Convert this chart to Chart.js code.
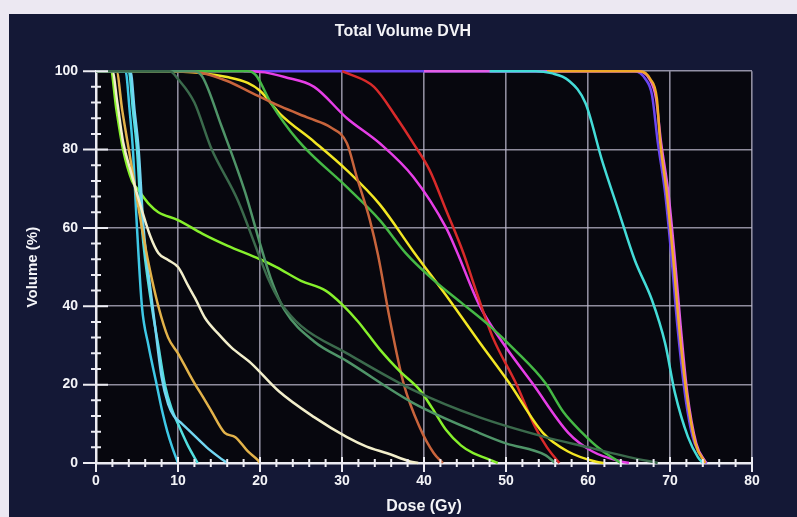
<!DOCTYPE html>
<html>
<head>
<meta charset="utf-8">
<script src="https://cdn.jsdelivr.net/npm/chart.js@4.4.1/dist/chart.umd.min.js"></script>
<style>
  html, body { margin: 0; padding: 0; background: #ece8f2; }
  #wrap { position: absolute; left: 9px; top: 14px; width: 788px; height: 503px; background: #141836; }
</style>
</head>
<body>
<div id="wrap"><canvas id="dvh" width="788" height="503"></canvas></div>
<script>
// curves: [dose (Gy), volume (%)]
const darkGreen = [[0,100],[9,100],[10,98],[12,92],[14,80.6],[17.3,67],[19.7,54],[21,47],[22.5,41],[25,35],[30.6,28],[38.7,18.6],[46.7,11.7],[54.8,6.6],[60,4],[65,1.5],[68.5,0]];
const tealGreen = [[0,100],[12,100],[13,98.5],[15.3,86],[18.2,69],[20,56],[21.5,46],[23,39],[26.6,31],[30.6,26],[38.7,15.3],[46.7,7.7],[50,5],[54.8,2],[56,0]];
const cream = [[0,100],[2,100],[2.6,92],[3.3,82],[4.3,74],[5.6,64.5],[6.6,58],[7.6,53.6],[8.8,51.8],[10,50],[11.3,45],[12.1,42],[13.3,37],[14.9,33],[16.5,29.5],[18.9,25.5],[22.3,18.3],[26.6,11.7],[30.6,6.6],[33,4.2],[35.5,2.5],[38.3,0.4],[39.3,0]];
const amber = [[0,100],[2.5,100],[3.2,90],[4,80],[4.8,70],[5.6,60],[6.5,50],[7.6,40],[8.8,32],[10,28],[11.3,23],[12,20.4],[13,17],[14,13.5],[15.7,7.7],[17,6.6],[18.5,3],[19.7,0.8],[20,0]];
const cyanC = [[0,100],[4.2,100],[4.7,90],[5.2,80],[5.8,60],[6.6,45],[7.2,35],[8,22],[8.8,15],[9.5,12],[10.5,10],[11.5,8],[13.5,4],[15,1.5],[16,0]];
const cyanB = [[0,100],[4,100],[4.5,90],[5,80],[5.6,60],[6.8,40],[7.6,30],[8.4,20],[9.2,14],[10,10],[11.2,4.5],[12.4,0]];
const cyanA = [[0,100],[3.6,100],[4.1,90],[4.5,80],[5,60],[5.6,40],[6.4,30],[7.4,20],[8.1,13],[8.7,8],[9.3,4],[10,0]];
const lime = [[0,100],[1.8,100],[2.5,90],[3.3,80],[4.4,72],[5.2,69.6],[6.5,66],[7.6,64],[10,62],[13,58.5],[16,55.5],[20,52],[22,50],[25,46.5],[28,44],[30,40.5],[32,36],[34.6,29],[37,23.5],[39.5,18.6],[41,14],[42.7,8.4],[44.5,4.5],[46,2.5],[47.6,1.2],[49,0]];
const brown = [[0,100],[9,100],[13,99.5],[16,97.5],[18.5,95],[22.5,91],[26,88],[28.6,85.7],[30.6,81.6],[31.8,73],[33.4,62],[34.4,53],[35.8,37],[37.5,20.4],[39.5,9],[41.2,2.5],[42.3,0]];
const green = [[0,100],[18.5,100],[19.5,99],[21.3,92],[24.6,82.4],[30.6,70.4],[34.6,62],[37.8,53.5],[41,47],[44.5,41],[48,35],[51,29],[54.8,20.4],[57,13],[59.3,7.7],[61.5,3.5],[64,0]];
const yellow = [[0,100],[8,100],[13,99.5],[16,98.5],[18.5,97],[20,95],[22.5,89],[26.6,82],[30.6,74.7],[34.6,66],[38.7,54],[43.1,41.6],[46.7,31],[50.4,20.4],[54.5,7.7],[57.5,3],[61,0.3],[62,0]];
const red = [[30,100],[30.6,99.5],[33.9,96],[36.7,88],[38.7,81.6],[40.7,74.7],[42.7,64.5],[44.8,53.6],[46.5,43],[48.4,32],[51.2,20.4],[53.6,9],[55,4],[56.5,0]];
const magenta = [[0,100],[18,100],[20.6,99.7],[23,98.5],[26.6,96],[30.6,88],[34.6,81.6],[38.7,73],[42.7,60],[44,54],[46.7,40.5],[49.5,31],[53.2,20.4],[57.6,7.7],[60.5,3],[64,0.4],[65,0]];
const cyanRight = [[48,100],[53.6,100],[55.5,99.5],[57.6,97.7],[59.7,91.8],[61.7,77.3],[63.7,64.5],[65.7,51.8],[67.8,41.6],[69.4,30.6],[70.6,17.9],[72.2,6.6],[73.4,1.5],[74,0]];
const ptvOrange = [[55,100],[66.3,100],[67.6,98],[68.4,93],[68.8,82],[69.6,69],[70.4,52],[71.1,35],[72,18],[73.1,5],[74.3,0]];
const ptvPink = [[40,100],[66,100],[67.5,98],[68.3,93],[68.9,82],[69.8,69],[70.6,52],[71.3,35],[72.1,18],[73.2,5],[74.4,0]];
const ptvViolet = [[18,100],[65.7,100],[67,98],[67.8,94],[68.5,82],[69.4,69],[70.2,52],[70.9,35],[71.8,18],[72.5,9],[73,5],[74.2,0.5],[74.5,0]];

const curves = [darkGreen, tealGreen, cream, amber, cyanC, cyanB, cyanA, lime, brown, green, yellow, red, magenta, cyanRight, ptvOrange, ptvPink, ptvViolet];
const colors = ['#3b6a4c', '#4f9468', '#f2eecb', '#e2b24a', '#72d6f2', '#52dede', '#3fc8e6', '#86f02c', '#c8643c', '#45b845', '#f2e624', '#d82a2a', '#e63ee6', '#44dcd8', '#f0a828', '#e35fe6', '#6a46f2'];

const xTicks = [0, 10, 20, 30, 40, 50, 60, 70, 80];
const yTicks = [0, 20, 40, 60, 80, 100];

const gridColor = 'rgba(190,186,206,0.75)';
const axisColor = '#ecebf2';
const textColor = '#f4f4f8';
const font = { family: 'Liberation Sans', size: 14, weight: 'bold' };

const frame = {
  id: 'frame',
  beforeDraw(chart) {
    const { ctx, chartArea: a } = chart;
    ctx.save();
    ctx.fillStyle = '#07070e';
    ctx.fillRect(a.left, a.top, a.right - a.left, a.bottom - a.top);
    ctx.restore();
  },
  afterDraw(chart) {
    const { ctx, chartArea: a, scales } = chart;
    ctx.save();
    ctx.strokeStyle = axisColor;
    ctx.lineWidth = 2;
    ctx.beginPath();
    for (let v = 0; v <= 80; v += 2) {
      const x = scales.x.getPixelForValue(v);
      const major = v % 10 === 0;
      ctx.moveTo(x, a.bottom - (major ? 6 : 4));
      ctx.lineTo(x, a.bottom + (major ? 9 : 4));
    }
    for (let v = 0; v <= 100; v += 4) {
      const y = scales.y.getPixelForValue(v);
      const major = v % 20 === 0;
      ctx.moveTo(a.left - (major ? 13 : 5), y);
      ctx.lineTo(a.left + (major ? 12 : 5), y);
    }
    ctx.stroke();
    ctx.restore();
  }
};

new Chart(document.getElementById('dvh'), {
  type: 'line',
  data: {
    datasets: curves.map((c, i) => ({
      data: c.map(p => ({ x: p[0], y: p[1] })),
      borderColor: colors[i],
      borderWidth: 2.5,
      pointRadius: 0,
      cubicInterpolationMode: 'monotone',
      clip: 4
    }))
  },
  options: {
    responsive: false,
    animation: false,
    layout: { padding: 0 },
    plugins: {
      legend: { display: false },
      tooltip: { enabled: false },
      title: {
        display: true,
        text: 'Total Volume DVH',
        color: textColor,
        font: { family: 'Liberation Sans', size: 16, weight: 'bold' },
        padding: { top: 8, bottom: 30 }
      }
    },
    scales: {
      x: {
        type: 'linear',
        min: 0,
        max: 80,
        afterBuildTicks: s => { s.ticks = xTicks.map(v => ({ value: v })); },
        afterFit: s => { s.height = 54; },
        ticks: { color: textColor, font: font, padding: 10, maxRotation: 0 },
        grid: { color: gridColor, lineWidth: 1.6, drawTicks: false },
        border: { color: axisColor, width: 2.5 },
        title: { display: true, text: 'Dose (Gy)', color: textColor, font: { family: 'Liberation Sans', size: 16, weight: 'bold' }, padding: { top: 0, bottom: 1 } }
      },
      y: {
        min: 0,
        max: 100,
        afterBuildTicks: s => { s.ticks = yTicks.map(v => ({ value: v })); },
        afterFit: s => { s.width = 87; },
        ticks: { color: textColor, font: font, padding: 18 },
        grid: { color: gridColor, lineWidth: 1.6, drawTicks: false },
        border: { color: axisColor, width: 2.5 },
        title: { display: true, text: 'Volume (%)', color: textColor, font: { family: 'Liberation Sans', size: 15, weight: 'bold' }, padding: { top: 15, bottom: 0 } }
      },
      // empty right margin, keeps the title centred on the whole screen
      margin: {
        position: 'right',
        afterFit: s => { s.width = 45; },
        ticks: { display: false },
        grid: { display: false },
        border: { display: false }
      }
    }
  },
  plugins: [frame]
});
</script>
</body>
</html>
